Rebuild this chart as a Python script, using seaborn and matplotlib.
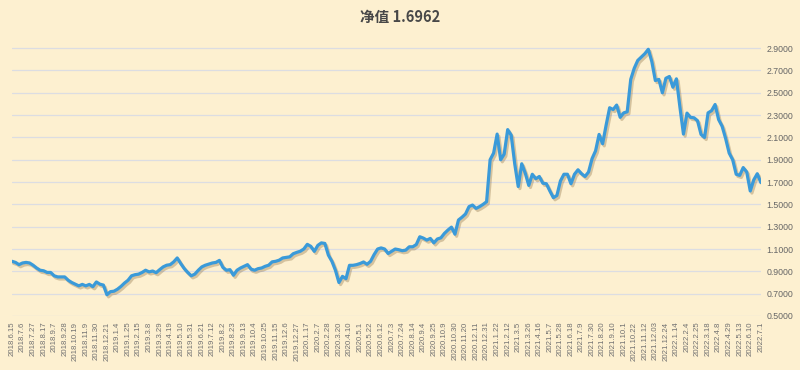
import matplotlib
matplotlib.use("Agg")
import matplotlib.pyplot as plt
import matplotlib.patheffects as pe
import seaborn as sns
import pandas as pd

# weekly net value
nav = [
    0.99, 0.98, 0.96, 0.975, 0.98, 0.975, 0.955, 0.93, 0.91, 0.905,
    0.89, 0.89, 0.86, 0.85, 0.85, 0.85, 0.82, 0.80, 0.785, 0.77,
    0.783, 0.77, 0.783, 0.762, 0.805, 0.785, 0.777, 0.69, 0.718, 0.722,
    0.74, 0.765, 0.795, 0.82,
    0.86, 0.87, 0.875, 0.89, 0.91, 0.895, 0.903, 0.888, 0.915, 0.94,
    0.955, 0.96, 0.985, 1.02, 0.97, 0.925, 0.89, 0.86, 0.875, 0.91,
    0.94, 0.955, 0.965, 0.975, 0.98, 0.998, 0.935, 0.91, 0.915, 0.865,
    0.91, 0.93, 0.945, 0.96, 0.92, 0.91,
    0.924, 0.93, 0.945, 0.955, 0.985, 0.99, 1.0, 1.02, 1.025, 1.03,
    1.058, 1.07, 1.08, 1.1, 1.142, 1.124, 1.079, 1.133, 1.155, 1.15,
    1.045, 0.99, 0.91, 0.80, 0.855, 0.834, 0.954, 0.954, 0.96, 0.97,
    0.984, 0.963, 0.99, 1.05, 1.10,
    1.11, 1.10, 1.06, 1.08, 1.10, 1.094, 1.085, 1.09, 1.12, 1.12,
    1.14, 1.21, 1.198, 1.18, 1.195, 1.155, 1.19, 1.20, 1.24, 1.27,
    1.296, 1.233, 1.36, 1.385, 1.414, 1.48, 1.494, 1.464, 1.48, 1.50,
    1.524, 1.90, 1.96, 2.13, 1.90, 1.95,
    2.17, 2.12, 1.864, 1.66, 1.864, 1.78, 1.67, 1.77, 1.73, 1.75,
    1.69, 1.685, 1.62, 1.56, 1.58, 1.71, 1.77, 1.77, 1.685, 1.77,
    1.81, 1.775, 1.75, 1.79, 1.91, 1.98, 2.127, 2.043, 2.21, 2.366,
    2.35, 2.39, 2.28, 2.32, 2.33,
    2.62, 2.72, 2.79, 2.82, 2.85, 2.89, 2.78, 2.61, 2.62, 2.50,
    2.63, 2.646, 2.55, 2.625, 2.37, 2.13, 2.318, 2.28, 2.276, 2.25,
    2.127, 2.10, 2.32, 2.34, 2.395, 2.26, 2.20, 2.09, 1.96,
    1.90, 1.77, 1.76, 1.83, 1.79, 1.62, 1.72, 1.775, 1.6962,
]

tick_labels = [
    "2018.6.15", "2018.7.6", "2018.7.27", "2018.8.17", "2018.9.7", "2018.9.28",
    "2018.10.19", "2018.11.9", "2018.11.30", "2018.12.21",
    "2019.1.4", "2019.1.25", "2019.2.15", "2019.3.8", "2019.3.29", "2019.4.19",
    "2019.5.10", "2019.5.31", "2019.6.21", "2019.7.12", "2019.8.2", "2019.8.23",
    "2019.9.13", "2019.10.4", "2019.10.25", "2019.11.15", "2019.12.6", "2019.12.27",
    "2020.1.17", "2020.2.7", "2020.2.28", "2020.3.20", "2020.4.10", "2020.5.1",
    "2020.5.22", "2020.6.12", "2020.7.3", "2020.7.24", "2020.8.14", "2020.9.4",
    "2020.9.25", "2020.10.9", "2020.10.30", "2020.11.20", "2020.12.11", "2020.12.31",
    "2021.1.22", "2021.2.12", "2021.3.5", "2021.3.26", "2021.4.16", "2021.5.7",
    "2021.5.28", "2021.6.18", "2021.7.9", "2021.7.30", "2021.8.20", "2021.9.10",
    "2021.10.1", "2021.10.22", "2021.11.12", "2021.12.03", "2021.12.24",
    "2022.1.14", "2022.2.4", "2022.2.25", "2022.3.18", "2022.4.8", "2022.4.29",
    "2022.5.13", "2022.6.10", "2022.7.1",
]

y_ticks = [0.5, 0.7, 0.9, 1.1, 1.3, 1.5, 1.7, 1.9, 2.1, 2.3, 2.5, 2.7, 2.9]

bg = "#fdf0d0"
df = pd.DataFrame({"week": range(len(nav)), "nav": nav})

sns.set_style("white", {"axes.facecolor": bg, "figure.facecolor": bg})
plt.rcParams['font.family'] = ['Liberation Sans', 'Noto Sans CJK SC']

fig = plt.figure(figsize=(8, 3.7), dpi=100)
ax = fig.add_axes([0.015, 0.146, 0.936, 0.754])

sns.lineplot(data=df, x="week", y="nav", ax=ax, color="#3a9ad9", linewidth=2.3,
             path_effects=[pe.SimpleLineShadow(offset=(1.2, -1.5), shadow_color="#7a5a2a", alpha=0.3),
                           pe.Normal()])

ax.set_xlim(0, len(nav) - 1)
ax.set_ylim(0.5, 3.0)
ax.set_xticks(range(0, len(nav), 3))
ax.set_xticklabels(tick_labels, rotation=90, fontsize=5.6, color="#707070")
ax.yaxis.tick_right()
ax.set_yticks(y_ticks)
ax.set_yticklabels([f"{v:.4f}" for v in y_ticks], fontsize=6.3, color="#666666")
ax.tick_params(length=0, pad=4)
ax.grid(axis="y", color="#dcdde2", linewidth=0.9)
ax.grid(axis="x", visible=False)
ax.set_xlabel("")
ax.set_ylabel("")
for s in ax.spines.values():
    s.set_visible(False)

fig.text(0.5, 0.953, "净值 1.6962", ha="center", va="center", fontsize=10.5,
         fontweight="bold", color="#484848", family=['Noto Sans CJK SC', 'DejaVu Sans'])

fig.savefig("out.png", dpi=100, facecolor=bg)
